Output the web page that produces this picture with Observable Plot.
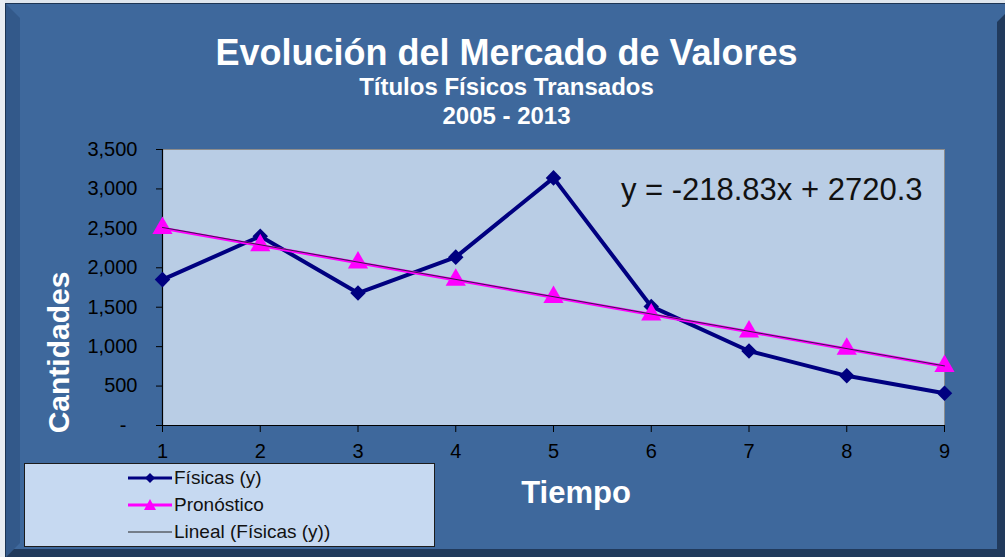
<!DOCTYPE html>
<html><head><meta charset="utf-8">
<script src="https://cdn.jsdelivr.net/npm/d3@7"></script>
<script src="https://cdn.jsdelivr.net/npm/@observablehq/plot@0.6"></script>
<style>
html,body{margin:0;padding:0;background:#ffffff;}
#wrap{position:relative;width:1005px;height:557px;overflow:hidden;background:#3e689c;font-family:"Liberation Sans",Arial,sans-serif;}
.abs{position:absolute;}
.ttl{position:absolute;left:4px;width:1005px;text-align:center;color:#fff;font-weight:bold;line-height:1;white-space:nowrap;}
#chart{position:absolute;left:0;top:0;}
#legend{position:absolute;left:24px;top:463px;width:409px;height:82px;background:#c6d9f1;border:1.5px solid #1c1c1c;}
.row{position:absolute;left:103px;height:26px;display:flex;align-items:center;font-size:19px;color:#111;white-space:nowrap;}
.row svg{margin-right:2px;}
</style></head><body>
<div id="wrap">
  <div class="abs" style="left:0;top:0;width:1005px;height:3px;background:#dfe6ee"></div>
  <div class="abs" style="left:0;top:3px;width:1005px;height:1px;background:#1d3554"></div>
  <div class="abs" style="left:0;top:0;width:5px;height:557px;background:#e8edf3"></div>
  <div class="abs" style="left:5px;top:3px;width:1px;height:554px;background:#1d3554"></div>
  <div class="abs" style="left:6px;top:4px;width:14px;height:553px;background:#33598a;clip-path:polygon(0 0,100% 14px,100% calc(100% - 14px),0 100%)"></div>
  <div class="abs" style="left:6px;top:549px;width:999px;height:8px;background:#213a5c;clip-path:polygon(8px 0,100% 0,100% 100%,0 100%)"></div>
  <div class="abs" style="left:997px;top:14px;width:8px;height:543px;background:#213a5c;clip-path:polygon(0 8px,100% 0,100% 100%,0 100%)"></div>
  <div id="chart"></div>
  <div class="ttl" style="top:35px;font-size:36px;">Evolución del Mercado de Valores</div>
  <div class="ttl" style="top:75px;font-size:24px;">Títulos Físicos Transados</div>
  <div class="ttl" style="top:104px;font-size:24px;">2005 - 2013</div>
  <div class="abs" style="left:476px;top:477px;width:200px;text-align:center;color:#fff;font-weight:bold;font-size:31px;line-height:1;">Tiempo</div>
  <div class="abs" style="left:-42px;top:337px;width:200px;height:31px;text-align:center;color:#fff;font-weight:bold;font-size:30px;line-height:31px;transform:rotate(-90deg);">Cantidades</div>
  <div id="legend">
    <div class="row" style="top:1px"><svg width="44" height="14"><line x1="0" y1="7" x2="44" y2="7" stroke="#000080" stroke-width="3"/><path d="M22 2L27 7L22 12L17 7Z" fill="#000080"/></svg><span id="lg1"></span></div>
    <div class="row" style="top:28px"><svg width="44" height="14"><line x1="0" y1="7" x2="44" y2="7" stroke="#ff00ff" stroke-width="3"/><path d="M22 1L28 12L16 12Z" fill="#ff00ff"/></svg><span id="lg2"></span></div>
    <div class="row" style="top:55px"><svg width="44" height="14"><line x1="0" y1="7" x2="44" y2="7" stroke="#222" stroke-width="1"/></svg><span id="lg3"></span></div>
  </div>
</div>
<script>
const tiempo = [1, 2, 3, 4, 5, 6, 7, 8, 9];
const fisicas = [1850, 2400, 1680, 2135, 3140, 1510, 945, 630, 410];
const pronostico = [2502, 2283, 2064, 1845, 1626, 1407, 1189, 970, 751];
const yTicks = [0, 500, 1000, 1500, 2000, 2500, 3000, 3500];
const xTicks = [1, 2, 3, 4, 5, 6, 7, 8, 9];
const seriesNames = ["Físicas (y)", "Pronóstico", "Lineal (Físicas (y))"];
const equation = "y = -218.83x + 2720.3";

document.getElementById("lg1").textContent = seriesNames[0];
document.getElementById("lg2").textContent = seriesNames[1];
document.getElementById("lg3").textContent = seriesNames[2];

const data = tiempo.map((t, i) => ({t, f: fisicas[i], p: pronostico[i]}));

const chart = Plot.plot({
  width: 1005, height: 557,
  marginLeft: 162, marginRight: 61, marginTop: 149, marginBottom: 132,
  style: {background: "transparent", fontFamily: "Liberation Sans, Arial, sans-serif", color: "#000", overflow: "visible"},
  x: {domain: [1, 9], label: null},
  y: {domain: [0, 3500], label: null},
  marks: [
    Plot.frame({fill: "#b9cde5", stroke: "#8c8c8c"}),
    Plot.axisY({ticks: yTicks, tickSize: 6, tickPadding: 19, fontSize: 20, stroke: "#000",
      tickFormat: d => d === 0 ? "-\u2007" : d3.format(",")(d), label: null}),
    Plot.axisX({ticks: xTicks, tickSize: 7, tickPadding: 11, fontSize: 20, stroke: "#000",
      tickFormat: d3.format("d"), label: null}),
    Plot.ruleX([1], {stroke: "#000", strokeWidth: 1.2}),
    Plot.ruleY([0], {stroke: "#000", strokeWidth: 1.2}),
    Plot.line(data, {x: "t", y: "f", stroke: "#000080", strokeWidth: 4}),
    Plot.dot(data, {x: "t", y: "f", symbol: "diamond2", r: 7, fill: "#000080"}),
    Plot.line(data, {x: "t", y: "p", stroke: "#ff00ff", strokeWidth: 3}),
    Plot.dot(data, {x: "t", y: "p", symbol: "triangle", r: 7.5, fill: "#ff00ff"}),
    Plot.linearRegressionY(data, {x: "t", y: "f", stroke: "#3a1a4a", strokeWidth: 1, ci: 0}),
    Plot.text([equation], {frameAnchor: "top-right", dx: -22, dy: 28, fontSize: 31, fill: "#111", className: "eq"})
  ]
});
document.getElementById("chart").appendChild(chart);
</script>
</body></html>
